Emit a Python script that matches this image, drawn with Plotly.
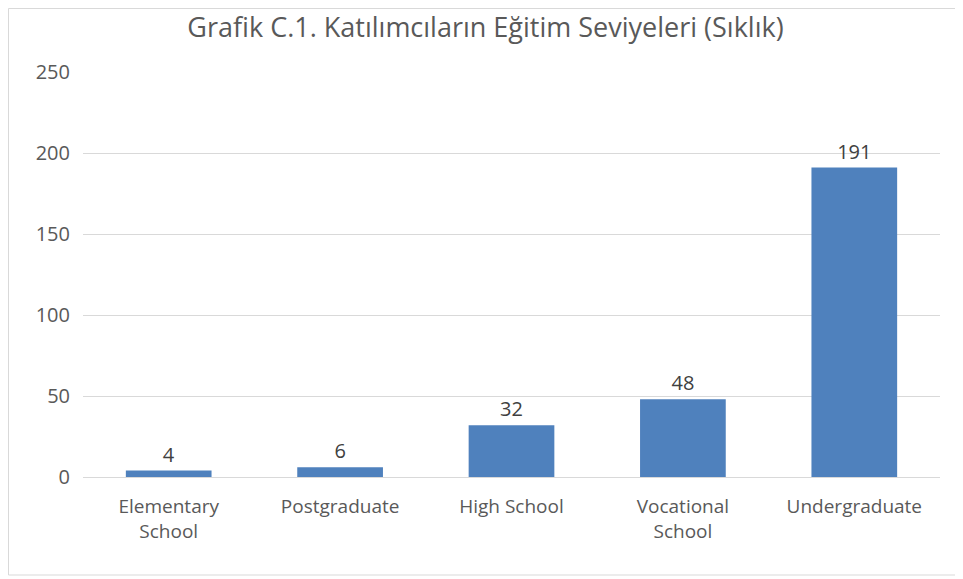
import plotly.graph_objects as go

categories = ["Elementary<br>School", "Postgraduate", "High School", "Vocational<br>School", "Undergraduate"]
values = [4, 6, 32, 48, 191]
y_ticks = [0, 50, 100, 150, 200, 250]

OFF = 8  # page body margin
W, H = 963 - OFF, 579 - OFF
ml, mt = 83 - OFF, 72 - OFF
mr = W - (940 - OFF)
mb = H - (477 - OFF)
pw = W - ml - mr
ph = H - mt - mb

def px2x(px):
    return (px - OFF - ml) / pw

def py2y(py):
    return (H - mb - (py - OFF)) / ph

fig = go.Figure(go.Bar(
    x=categories, y=values,
    marker=dict(color="#4F81BD", line=dict(width=0)),
    text=[str(v) for v in values], textposition="outside",
    textfont=dict(family="Open Sans", size=20, color="#404040"),
    cliponaxis=False,
))

fig.update_layout(
    width=W, height=H,
    margin=dict(l=ml, r=mr, t=mt, b=mb),
    paper_bgcolor="white", plot_bgcolor="white",
    bargap=0.5,
    showlegend=False,
    title=dict(text="Grafik C.1. Katılımcıların Eğitim Seviyeleri (Sıklık)",
               x=0.5, xanchor="center", y=1 - (28 - OFF) / H, yanchor="middle",
               font=dict(family="Open Sans", size=27, color="#595959")),
    font=dict(family="Open Sans", color="#595959"),
    xaxis=dict(showgrid=False, showline=True, linecolor="#D9D9D9", linewidth=1,
               ticks="", tickfont=dict(size=19, color="#595959"), ticklabelstandoff=12),
    yaxis=dict(range=[0, 250], tickvals=y_ticks, showgrid=True, gridcolor="#D9D9D9",
               gridwidth=1, zeroline=False, ticks="", showline=False,
               tickfont=dict(size=20, color="#595959"), ticklabelstandoff=12),
    shapes=[dict(type="rect", xref="paper", yref="paper",
                 x0=px2x(8.5), x1=px2x(957), y0=py2y(575), y1=py2y(8.5),
                 line=dict(color="#D9D9D9", width=1), fillcolor="rgba(0,0,0,0)", layer="below")],
)

fig.write_html("out.html")
